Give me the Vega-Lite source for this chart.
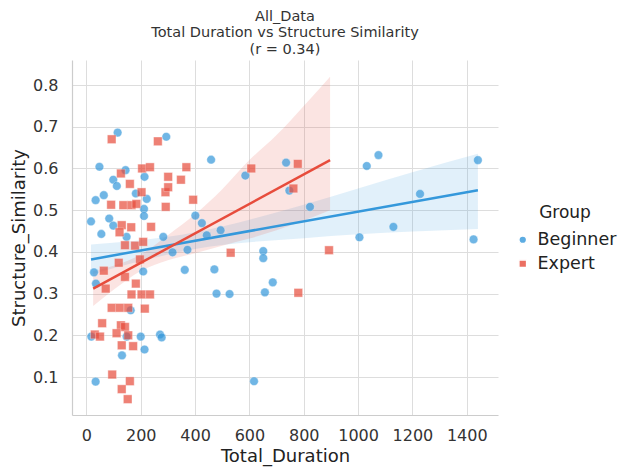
{
  "$schema": "https://vega.github.io/schema/vega-lite/v6.json",
  "width": 426,
  "height": 355,
  "autosize": {"type": "none"},
  "padding": {"left": 72, "top": 60, "right": 129, "bottom": 53},
  "background": "white",
  "config": {
    "font": "DejaVu Sans",
    "view": {"stroke": null},
    "axis": {
      "grid": true,
      "gridColor": "#dddddd",
      "gridWidth": 1,
      "domainColor": "#cccccc",
      "domainWidth": 1.2,
      "ticks": false,
      "labelFontSize": 16,
      "labelColor": "#333333",
      "titleFontSize": 18,
      "titleFontWeight": "normal",
      "titleColor": "#222222"
    }
  },
  "title": {
    "text": ["All_Data", "Total Duration vs Structure Similarity", "(r = 0.34)"],
    "fontSize": 14.5,
    "fontWeight": "normal",
    "color": "#333333",
    "lineHeight": 16.5,
    "anchor": "middle",
    "offset": 3
  },
  "resolve": {"legend": {"color": "independent", "shape": "independent"}},
  "datasets": {
    "points": [
      {"Group": "Beginner", "Total_Duration": 115, "Structure_Similarity": 0.686},
      {"Group": "Beginner", "Total_Duration": 294, "Structure_Similarity": 0.676},
      {"Group": "Beginner", "Total_Duration": 48, "Structure_Similarity": 0.604},
      {"Group": "Beginner", "Total_Duration": 144, "Structure_Similarity": 0.596},
      {"Group": "Beginner", "Total_Duration": 99, "Structure_Similarity": 0.573},
      {"Group": "Beginner", "Total_Duration": 112, "Structure_Similarity": 0.558},
      {"Group": "Beginner", "Total_Duration": 214, "Structure_Similarity": 0.58},
      {"Group": "Beginner", "Total_Duration": 64, "Structure_Similarity": 0.536},
      {"Group": "Beginner", "Total_Duration": 34, "Structure_Similarity": 0.524},
      {"Group": "Beginner", "Total_Duration": 182, "Structure_Similarity": 0.54},
      {"Group": "Beginner", "Total_Duration": 222, "Structure_Similarity": 0.527},
      {"Group": "Beginner", "Total_Duration": 212, "Structure_Similarity": 0.503},
      {"Group": "Beginner", "Total_Duration": 212, "Structure_Similarity": 0.486},
      {"Group": "Beginner", "Total_Duration": 17, "Structure_Similarity": 0.473},
      {"Group": "Beginner", "Total_Duration": 84, "Structure_Similarity": 0.48},
      {"Group": "Beginner", "Total_Duration": 99, "Structure_Similarity": 0.463},
      {"Group": "Beginner", "Total_Duration": 55, "Structure_Similarity": 0.443},
      {"Group": "Beginner", "Total_Duration": 148, "Structure_Similarity": 0.436},
      {"Group": "Beginner", "Total_Duration": 283, "Structure_Similarity": 0.436},
      {"Group": "Beginner", "Total_Duration": 459, "Structure_Similarity": 0.621},
      {"Group": "Beginner", "Total_Duration": 585, "Structure_Similarity": 0.583},
      {"Group": "Beginner", "Total_Duration": 401, "Structure_Similarity": 0.487},
      {"Group": "Beginner", "Total_Duration": 425, "Structure_Similarity": 0.469},
      {"Group": "Beginner", "Total_Duration": 443, "Structure_Similarity": 0.44},
      {"Group": "Beginner", "Total_Duration": 494, "Structure_Similarity": 0.452},
      {"Group": "Beginner", "Total_Duration": 317, "Structure_Similarity": 0.399},
      {"Group": "Beginner", "Total_Duration": 372, "Structure_Similarity": 0.405},
      {"Group": "Beginner", "Total_Duration": 362, "Structure_Similarity": 0.357},
      {"Group": "Beginner", "Total_Duration": 471, "Structure_Similarity": 0.358},
      {"Group": "Beginner", "Total_Duration": 735, "Structure_Similarity": 0.614},
      {"Group": "Beginner", "Total_Duration": 747, "Structure_Similarity": 0.547},
      {"Group": "Beginner", "Total_Duration": 823, "Structure_Similarity": 0.508},
      {"Group": "Beginner", "Total_Duration": 1032, "Structure_Similarity": 0.606},
      {"Group": "Beginner", "Total_Duration": 1075, "Structure_Similarity": 0.632},
      {"Group": "Beginner", "Total_Duration": 1228, "Structure_Similarity": 0.539},
      {"Group": "Beginner", "Total_Duration": 1130, "Structure_Similarity": 0.46},
      {"Group": "Beginner", "Total_Duration": 1005, "Structure_Similarity": 0.435},
      {"Group": "Beginner", "Total_Duration": 1425, "Structure_Similarity": 0.43},
      {"Group": "Beginner", "Total_Duration": 1441, "Structure_Similarity": 0.62},
      {"Group": "Beginner", "Total_Duration": 651, "Structure_Similarity": 0.402},
      {"Group": "Beginner", "Total_Duration": 651, "Structure_Similarity": 0.385},
      {"Group": "Beginner", "Total_Duration": 686, "Structure_Similarity": 0.327},
      {"Group": "Beginner", "Total_Duration": 657, "Structure_Similarity": 0.303},
      {"Group": "Beginner", "Total_Duration": 617, "Structure_Similarity": 0.09},
      {"Group": "Beginner", "Total_Duration": 479, "Structure_Similarity": 0.3},
      {"Group": "Beginner", "Total_Duration": 527, "Structure_Similarity": 0.299},
      {"Group": "Beginner", "Total_Duration": 28, "Structure_Similarity": 0.351},
      {"Group": "Beginner", "Total_Duration": 35, "Structure_Similarity": 0.324},
      {"Group": "Beginner", "Total_Duration": 209, "Structure_Similarity": 0.353},
      {"Group": "Beginner", "Total_Duration": 163, "Structure_Similarity": 0.26},
      {"Group": "Beginner", "Total_Duration": 18, "Structure_Similarity": 0.197},
      {"Group": "Beginner", "Total_Duration": 148, "Structure_Similarity": 0.197},
      {"Group": "Beginner", "Total_Duration": 200, "Structure_Similarity": 0.197},
      {"Group": "Beginner", "Total_Duration": 271, "Structure_Similarity": 0.202},
      {"Group": "Beginner", "Total_Duration": 277, "Structure_Similarity": 0.195},
      {"Group": "Beginner", "Total_Duration": 131, "Structure_Similarity": 0.152},
      {"Group": "Beginner", "Total_Duration": 214, "Structure_Similarity": 0.166},
      {"Group": "Beginner", "Total_Duration": 34, "Structure_Similarity": 0.089},
      {"Group": "Expert", "Total_Duration": 93, "Structure_Similarity": 0.67},
      {"Group": "Expert", "Total_Duration": 263, "Structure_Similarity": 0.665},
      {"Group": "Expert", "Total_Duration": 127, "Structure_Similarity": 0.588},
      {"Group": "Expert", "Total_Duration": 205, "Structure_Similarity": 0.6},
      {"Group": "Expert", "Total_Duration": 234, "Structure_Similarity": 0.603},
      {"Group": "Expert", "Total_Duration": 160, "Structure_Similarity": 0.563},
      {"Group": "Expert", "Total_Duration": 203, "Structure_Similarity": 0.543},
      {"Group": "Expert", "Total_Duration": 291, "Structure_Similarity": 0.543},
      {"Group": "Expert", "Total_Duration": 91, "Structure_Similarity": 0.513},
      {"Group": "Expert", "Total_Duration": 136, "Structure_Similarity": 0.512},
      {"Group": "Expert", "Total_Duration": 166, "Structure_Similarity": 0.512},
      {"Group": "Expert", "Total_Duration": 184, "Structure_Similarity": 0.515},
      {"Group": "Expert", "Total_Duration": 292, "Structure_Similarity": 0.508},
      {"Group": "Expert", "Total_Duration": 130, "Structure_Similarity": 0.464},
      {"Group": "Expert", "Total_Duration": 165, "Structure_Similarity": 0.459},
      {"Group": "Expert", "Total_Duration": 238, "Structure_Similarity": 0.46},
      {"Group": "Expert", "Total_Duration": 122, "Structure_Similarity": 0.447},
      {"Group": "Expert", "Total_Duration": 142, "Structure_Similarity": 0.416},
      {"Group": "Expert", "Total_Duration": 179, "Structure_Similarity": 0.415},
      {"Group": "Expert", "Total_Duration": 209, "Structure_Similarity": 0.424},
      {"Group": "Expert", "Total_Duration": 119, "Structure_Similarity": 0.374},
      {"Group": "Expert", "Total_Duration": 64, "Structure_Similarity": 0.355},
      {"Group": "Expert", "Total_Duration": 368, "Structure_Similarity": 0.603},
      {"Group": "Expert", "Total_Duration": 301, "Structure_Similarity": 0.58},
      {"Group": "Expert", "Total_Duration": 348, "Structure_Similarity": 0.573},
      {"Group": "Expert", "Total_Duration": 301, "Structure_Similarity": 0.555},
      {"Group": "Expert", "Total_Duration": 393, "Structure_Similarity": 0.525},
      {"Group": "Expert", "Total_Duration": 607, "Structure_Similarity": 0.6},
      {"Group": "Expert", "Total_Duration": 531, "Structure_Similarity": 0.398},
      {"Group": "Expert", "Total_Duration": 778, "Structure_Similarity": 0.611},
      {"Group": "Expert", "Total_Duration": 762, "Structure_Similarity": 0.552},
      {"Group": "Expert", "Total_Duration": 893, "Structure_Similarity": 0.404},
      {"Group": "Expert", "Total_Duration": 780, "Structure_Similarity": 0.302},
      {"Group": "Expert", "Total_Duration": 142, "Structure_Similarity": 0.34},
      {"Group": "Expert", "Total_Duration": 182, "Structure_Similarity": 0.324},
      {"Group": "Expert", "Total_Duration": 71, "Structure_Similarity": 0.312},
      {"Group": "Expert", "Total_Duration": 166, "Structure_Similarity": 0.298},
      {"Group": "Expert", "Total_Duration": 203, "Structure_Similarity": 0.298},
      {"Group": "Expert", "Total_Duration": 234, "Structure_Similarity": 0.298},
      {"Group": "Expert", "Total_Duration": 93, "Structure_Similarity": 0.266},
      {"Group": "Expert", "Total_Duration": 123, "Structure_Similarity": 0.266},
      {"Group": "Expert", "Total_Duration": 154, "Structure_Similarity": 0.266},
      {"Group": "Expert", "Total_Duration": 215, "Structure_Similarity": 0.264},
      {"Group": "Expert", "Total_Duration": 58, "Structure_Similarity": 0.229},
      {"Group": "Expert", "Total_Duration": 127, "Structure_Similarity": 0.224},
      {"Group": "Expert", "Total_Duration": 142, "Structure_Similarity": 0.22},
      {"Group": "Expert", "Total_Duration": 31, "Structure_Similarity": 0.202},
      {"Group": "Expert", "Total_Duration": 50, "Structure_Similarity": 0.197},
      {"Group": "Expert", "Total_Duration": 111, "Structure_Similarity": 0.205},
      {"Group": "Expert", "Total_Duration": 154, "Structure_Similarity": 0.2},
      {"Group": "Expert", "Total_Duration": 130, "Structure_Similarity": 0.176},
      {"Group": "Expert", "Total_Duration": 172, "Structure_Similarity": 0.174},
      {"Group": "Expert", "Total_Duration": 95, "Structure_Similarity": 0.106},
      {"Group": "Expert", "Total_Duration": 160, "Structure_Similarity": 0.09},
      {"Group": "Expert", "Total_Duration": 130, "Structure_Similarity": 0.071},
      {"Group": "Expert", "Total_Duration": 152, "Structure_Similarity": 0.047},
      {"Group": "Expert", "Total_Duration": 197, "Structure_Similarity": 0.382}
    ],
    "fit": [
      {"Group": "Beginner", "Total_Duration": 17, "Structure_Similarity": 0.382},
      {"Group": "Beginner", "Total_Duration": 1441, "Structure_Similarity": 0.548},
      {"Group": "Expert", "Total_Duration": 25, "Structure_Similarity": 0.312},
      {"Group": "Expert", "Total_Duration": 897, "Structure_Similarity": 0.62}
    ],
    "bands": [
      {"Group": "Beginner", "Total_Duration": 17, "lo": 0.346, "hi": 0.418},
      {"Group": "Beginner", "Total_Duration": 200, "lo": 0.378, "hi": 0.428},
      {"Group": "Beginner", "Total_Duration": 400, "lo": 0.407, "hi": 0.447},
      {"Group": "Beginner", "Total_Duration": 600, "lo": 0.423, "hi": 0.477},
      {"Group": "Beginner", "Total_Duration": 800, "lo": 0.433, "hi": 0.513},
      {"Group": "Beginner", "Total_Duration": 1000, "lo": 0.442, "hi": 0.552},
      {"Group": "Beginner", "Total_Duration": 1200, "lo": 0.449, "hi": 0.591},
      {"Group": "Beginner", "Total_Duration": 1441, "lo": 0.455, "hi": 0.635},
      {"Group": "Expert", "Total_Duration": 25, "lo": 0.27, "hi": 0.354},
      {"Group": "Expert", "Total_Duration": 100, "lo": 0.309, "hi": 0.367},
      {"Group": "Expert", "Total_Duration": 200, "lo": 0.354, "hi": 0.394},
      {"Group": "Expert", "Total_Duration": 300, "lo": 0.38, "hi": 0.44},
      {"Group": "Expert", "Total_Duration": 400, "lo": 0.397, "hi": 0.49},
      {"Group": "Expert", "Total_Duration": 500, "lo": 0.415, "hi": 0.55},
      {"Group": "Expert", "Total_Duration": 600, "lo": 0.432, "hi": 0.62},
      {"Group": "Expert", "Total_Duration": 700, "lo": 0.452, "hi": 0.68},
      {"Group": "Expert", "Total_Duration": 800, "lo": 0.475, "hi": 0.75},
      {"Group": "Expert", "Total_Duration": 897, "lo": 0.5, "hi": 0.82}
    ]
  },
  "layer": [
    {
      "data": {"name": "bands"},
      "mark": {"type": "area", "opacity": 0.15, "interpolate": "monotone", "clip": true},
      "encoding": {
        "x": {"field": "Total_Duration", "type": "quantitative", "title": "Total_Duration",
              "scale": {"domain": [-53, 1515], "nice": false, "zero": false}},
        "y": {"field": "lo", "type": "quantitative", "title": "Structure_Similarity",
              "scale": {"domain": [0.009, 0.86], "nice": false, "zero": false}},
        "y2": {"field": "hi"},
        "color": {"field": "Group", "type": "nominal", "legend": null,
                  "scale": {"domain": ["Beginner", "Expert"], "range": ["#3498db", "#e74c3c"]}},
        "detail": {"field": "Group"}
      }
    },
    {
      "data": {"name": "points"},
      "mark": {"type": "point", "filled": true, "opacity": 0.7, "size": 75, "stroke": "white", "strokeWidth": 0.4},
      "encoding": {
        "x": {"field": "Total_Duration", "type": "quantitative", "title": "Total_Duration",
              "axis": {"values": [0, 200, 400, 600, 800, 1000, 1200, 1400], "format": "d", "labelPadding": 12, "titlePadding": 4}},
        "y": {"field": "Structure_Similarity", "type": "quantitative", "title": "Structure_Similarity",
              "axis": {"values": [0.1, 0.2, 0.3, 0.4, 0.5, 0.6, 0.7, 0.8], "format": ".1f", "labelPadding": 14, "titlePadding": 4}},
        "color": {"field": "Group", "type": "nominal", "title": "Group",
                  "legend": {"orient": "none", "legendX": 442, "legendY": 145,
                             "titleFontSize": 17, "titleFontWeight": "normal", "titleColor": "#222222",
                             "titleAnchor": "middle",
                             "labelFontSize": 17.5, "labelColor": "#222222", "symbolSize": 60,
                             "rowPadding": 5, "titlePadding": 9, "labelOffset": 6, "symbolOpacity": 0.8}},
        "shape": {"field": "Group", "type": "nominal", "title": "Group",
                  "scale": {"domain": ["Beginner", "Expert"], "range": ["circle", "square"]}}
      }
    },
    {
      "data": {"name": "fit"},
      "mark": {"type": "line", "strokeWidth": 2.5},
      "encoding": {
        "x": {"field": "Total_Duration", "type": "quantitative", "title": "Total_Duration"},
        "y": {"field": "Structure_Similarity", "type": "quantitative", "title": "Structure_Similarity"},
        "color": {"field": "Group", "type": "nominal", "legend": null}
      }
    }
  ]
}
